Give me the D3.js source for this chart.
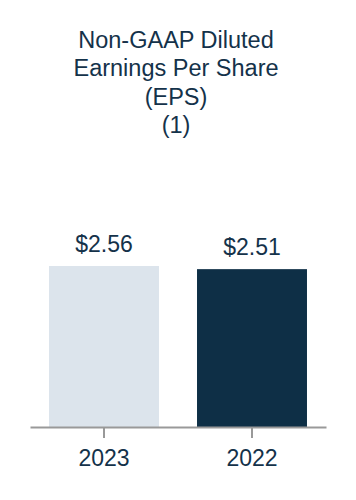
<!DOCTYPE html>
<html lang="en">
<head>
    <meta charset="UTF-8">
    <title>Non-GAAP Diluted EPS</title>
    <style>
        body {
            margin: 0;
            background-color: #ffffff;
        }
        text {
            font-family: "Liberation Sans", Arial, sans-serif;
            fill: #14324a;
        }
    </style>
</head>
<body>
    <div id="container"></div>

    <script src="https://d3js.org/d3.v7.min.js"></script>
    <script>
        // Chart data
        const years = ["2023", "2022"];
        const eps = [2.56, 2.51];
        const valueLabels = ["$2.56", "$2.51"];
        const titleLines = ["Non-GAAP Diluted", "Earnings Per Share", "(EPS)", "(1)"];
        const barColors = ["#dce4ec", "#0e2f46"];

        const width = 356;
        const height = 500;

        const svg = d3.select("#container")
            .append("svg")
            .attr("width", width)
            .attr("height", height);

        // Title
        svg.append("g")
            .selectAll("text")
            .data(titleLines)
            .join("text")
            .attr("x", 176)
            .attr("y", (d, i) => 48 + i * 28.4)
            .attr("text-anchor", "middle")
            .style("font-size", "23.5px")
            .text(d => d);

        const x = d3.scaleBand()
            .domain(years)
            .range([30, 326])
            .paddingInner(0.257)
            .paddingOuter(0.1285);

        const y = d3.scaleLinear()
            .domain([0, 2.56])
            .range([427, 266]);

        // Bars
        svg.append("g")
            .selectAll("rect")
            .data(years)
            .join("rect")
            .attr("x", d => x(d))
            .attr("y", (d, i) => y(eps[i]))
            .attr("width", x.bandwidth())
            .attr("height", (d, i) => y(0) - y(eps[i]))
            .attr("fill", (d, i) => barColors[i]);

        // Value labels
        svg.append("g")
            .selectAll("text")
            .data(years)
            .join("text")
            .attr("x", d => x(d) + x.bandwidth() / 2)
            .attr("y", (d, i) => y(eps[i]) - 14)
            .attr("text-anchor", "middle")
            .style("font-size", "23px")
            .text((d, i) => valueLabels[i]);

        // Axis
        const axis = svg.append("g")
            .attr("transform", `translate(0,${y(0)})`)
            .call(d3.axisBottom(x).tickSize(11).tickSizeOuter(0).tickPadding(12));

        axis.select(".domain")
            .attr("stroke", "#999999")
            .attr("stroke-width", 2);
        axis.selectAll(".tick line")
            .attr("stroke", "#999999")
            .attr("stroke-width", 2);
        axis.selectAll(".tick text")
            .style("font-size", "23px")
            .style("font-family", "'Liberation Sans', Arial, sans-serif")
            .attr("fill", "#14324a");
    </script>
</body>
</html>
